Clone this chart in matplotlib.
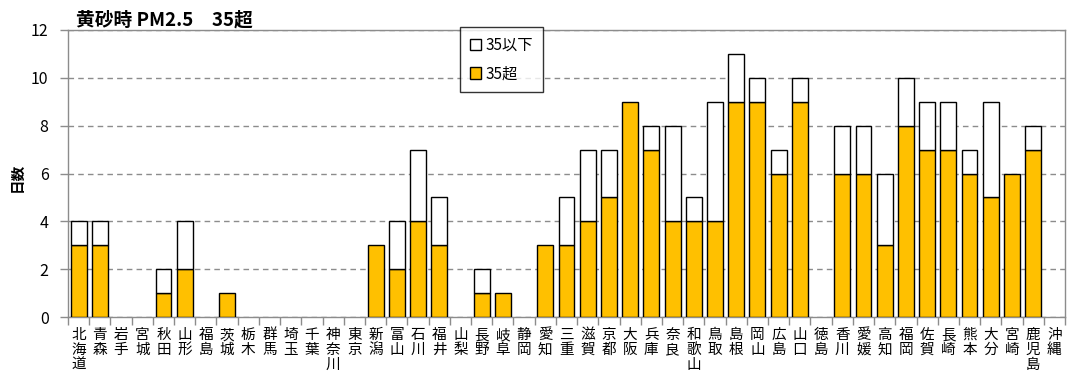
import matplotlib
matplotlib.use("Agg")
import matplotlib.pyplot as plt
from matplotlib.patches import Patch

plt.rcParams['font.family'] = ['Noto Sans CJK JP', 'DejaVu Sans']

prefectures = ["北海道", "青森", "岩手", "宮城", "秋田", "山形", "福島", "茨城", "栃木", "群馬",
               "埼玉", "千葉", "神奈川", "東京", "新潟", "富山", "石川", "福井", "山梨", "長野",
               "岐阜", "静岡", "愛知", "三重", "滋賀", "京都", "大阪", "兵庫", "奈良", "和歌山",
               "鳥取", "島根", "岡山", "広島", "山口", "徳島", "香川", "愛媛", "高知", "福岡",
               "佐賀", "長崎", "熊本", "大分", "宮崎", "鹿児島", "沖縄"]
over35 = [3, 3, 0, 0, 1, 2, 0, 1, 0, 0,
          0, 0, 0, 0, 3, 2, 4, 3, 0, 1,
          1, 0, 3, 3, 4, 5, 9, 7, 4, 4,
          4, 9, 9, 6, 9, 0, 6, 6, 3, 8,
          7, 7, 6, 5, 6, 7, 0]
under35 = [1, 1, 0, 0, 1, 2, 0, 0, 0, 0,
           0, 0, 0, 0, 0, 2, 3, 2, 0, 1,
           0, 0, 0, 2, 3, 2, 0, 1, 4, 1,
           5, 2, 1, 1, 1, 0, 2, 2, 3, 2,
           2, 2, 1, 4, 0, 1, 0]
yticks = [0, 2, 4, 6, 8, 10, 12]

W, H = 1068, 381
fig = plt.figure(figsize=(W / 100, H / 100), dpi=100)
ax = fig.add_axes([68 / W, 1 - 317 / H, (1065 - 68) / W, (317 - 30) / H])

x = list(range(len(prefectures)))
bw = 0.75
b1 = ax.bar(x, over35, width=bw, color='#FFC000', edgecolor='black', linewidth=1.0, zorder=3, label='35超')
b2 = ax.bar(x, under35, width=bw, bottom=over35, color='white', edgecolor='black', linewidth=1.0, zorder=3, label='35以下')
for cont in (b1, b2):
    for patch in cont.patches:
        if patch.get_height() == 0:
            patch.set_visible(False)

ax.set_xlim(-0.5, len(prefectures) - 0.5)
ax.set_ylim(0, 12)
ax.set_yticks(yticks)
ax.set_yticklabels([str(v) for v in yticks], fontsize=11.5)
ax.yaxis.grid(True, linestyle=(0, (4, 3)), color='#8c8c8c', linewidth=1.0, zorder=0)
ax.set_axisbelow(True)

ax.set_xticks(x)
ax.set_xticklabels(['\n'.join(p) for p in prefectures], fontsize=10.5, linespacing=1.07, va='top')
ax.tick_params(axis='x', which='major', length=0, pad=8)
ax.set_xticks([i - 0.5 for i in range(len(prefectures) + 1)], minor=True)
ax.tick_params(axis='x', which='minor', length=6, color='#8c8c8c', width=1)
ax.tick_params(axis='y', length=6, color='#8c8c8c', width=1, pad=8)

for s in ax.spines.values():
    s.set_color('#8c8c8c')
    s.set_linewidth(1.0)

fig.text(76 / W, 1 - 20 / H, "黄砂時 PM2.5　35超", fontsize=13.5, fontweight='bold', va='center', ha='left')
fig.text(17 / W, 1 - 177 / H, "日数", fontsize=10.5, fontweight='bold', rotation=90, va='center', ha='center')

handles = [Patch(facecolor='white', edgecolor='black', linewidth=1.0),
           Patch(facecolor='#FFC000', edgecolor='black', linewidth=1.0)]
leg = fig.legend(handles, ['35以下', '35超'], loc='upper left',
                 bbox_to_anchor=(460 / W, 1 - 27 / H), fontsize=11,
                 frameon=True, fancybox=False, edgecolor='black',
                 handlelength=0.75, handleheight=0.75, handletextpad=0.3,
                 labelspacing=0.75, borderpad=0.65, borderaxespad=0)
leg.get_frame().set_linewidth(1.0)

fig.savefig("out.png", dpi=100)
